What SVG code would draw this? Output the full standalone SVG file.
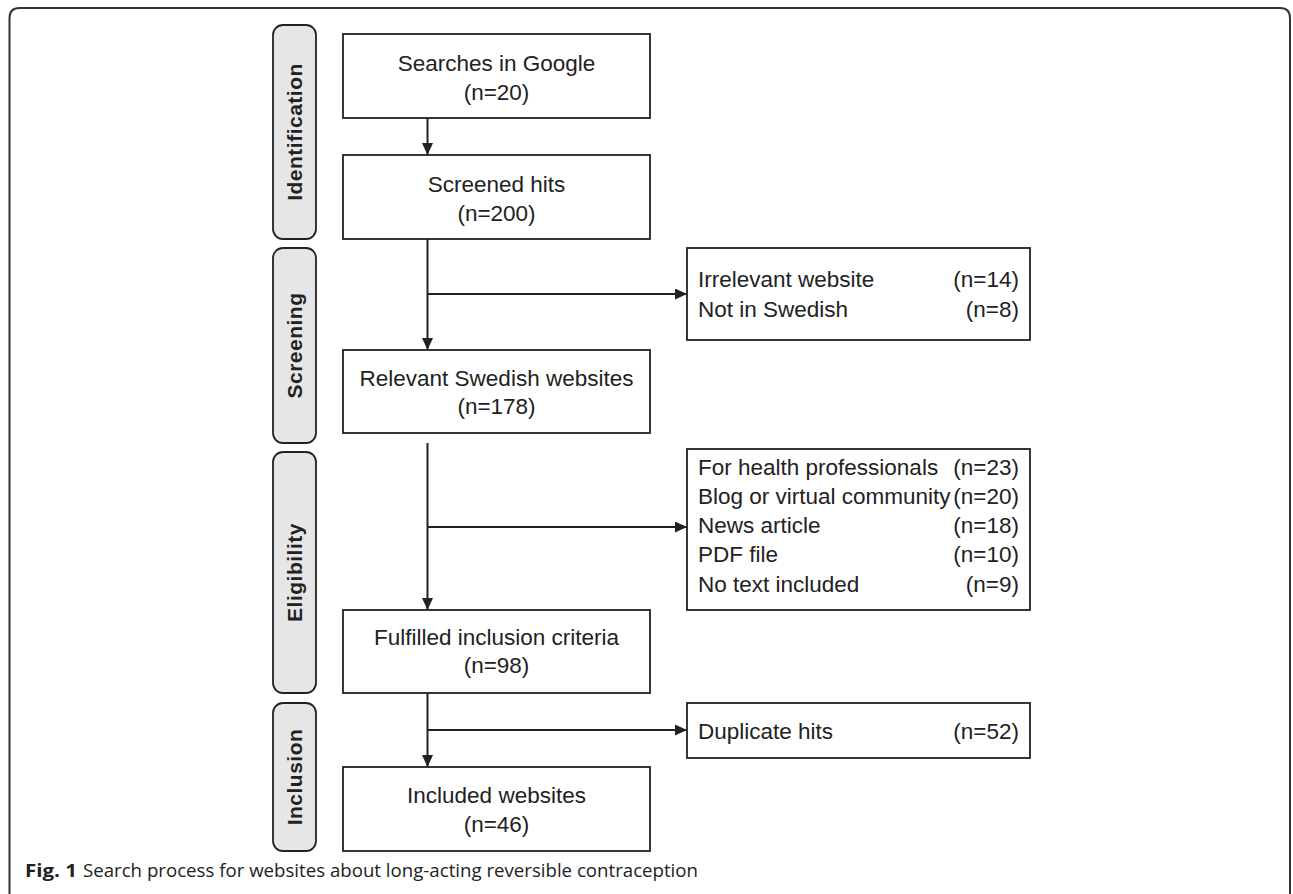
<svg xmlns="http://www.w3.org/2000/svg" width="1293" height="894" viewBox="0 0 1293 894">
<style>
.frame{fill:none;stroke:#333;stroke-width:2}
.box{fill:#fff;stroke:#222;stroke-width:1.8}
.stage{fill:#e6e6e6;stroke:#222;stroke-width:1.8}
.t{font-family:"Liberation Sans",Arial,sans-serif;font-size:22.5px;fill:#222}
.c{text-anchor:middle}
.e{text-anchor:end}
.s{font-family:"Liberation Sans",Arial,sans-serif;font-size:21px;font-weight:bold;fill:#222;text-anchor:middle;letter-spacing:0.5px}
.ln{fill:none;stroke:#222;stroke-width:2}
.cap{font-family:"Open Sans","Liberation Sans",sans-serif;font-size:18px;fill:#222}
</style>
<defs>
<marker id="ah" markerUnits="userSpaceOnUse" markerWidth="14" markerHeight="12" refX="12" refY="5.5" orient="auto">
<path d="M0,0 L12,5.5 L0,11 Z" fill="#222"/>
</marker>
</defs>
<path class="frame" d="M9.5,894 L9.5,18 Q9.5,8 19.5,8 L1280,8 Q1290,8 1290,18 L1290,894"/>
<g id="stage-identification"><rect class="stage" x="273" y="25" width="43" height="214" rx="10"/><text class="s" transform="translate(302,132) rotate(-90)">Identification</text></g>
<g id="stage-screening"><rect class="stage" x="273" y="248" width="43" height="195" rx="10"/><text class="s" transform="translate(302,345.5) rotate(-90)">Screening</text></g>
<g id="stage-eligibility"><rect class="stage" x="273" y="452" width="43" height="241" rx="10"/><text class="s" transform="translate(302,572.5) rotate(-90)">Eligibility</text></g>
<g id="stage-inclusion"><rect class="stage" x="273" y="703" width="43" height="148" rx="10"/><text class="s" transform="translate(302,777) rotate(-90)">Inclusion</text></g>
<g id="n1"><rect class="box" x="343" y="34" width="307" height="84"/><text class="t c" x="496.5" y="71">Searches in Google</text><text class="t c" x="496.5" y="100">(n=20)</text></g>
<g id="n2"><rect class="box" x="343" y="155" width="307" height="84"/><text class="t c" x="496.5" y="192">Screened hits</text><text class="t c" x="496.5" y="221">(n=200)</text></g>
<g id="n3"><rect class="box" x="343" y="350" width="307" height="83"/><text class="t c" x="496.5" y="386">Relevant Swedish websites</text><text class="t c" x="496.5" y="414">(n=178)</text></g>
<g id="n4"><rect class="box" x="343" y="610" width="307" height="83"/><text class="t c" x="496.5" y="645">Fulfilled inclusion criteria</text><text class="t c" x="496.5" y="673">(n=98)</text></g>
<g id="n5"><rect class="box" x="343" y="767" width="307" height="84"/><text class="t c" x="496.5" y="803">Included websites</text><text class="t c" x="496.5" y="832">(n=46)</text></g>
<g id="x1"><rect class="box" x="687" y="248" width="343" height="92"/>
<text class="t" x="698" y="287">Irrelevant website</text><text class="t e" x="1019" y="287">(n=14)</text>
<text class="t" x="698" y="317">Not in Swedish</text><text class="t e" x="1019" y="317">(n=8)</text></g>
<g id="x2"><rect class="box" x="687" y="449" width="343" height="161"/>
<text class="t" x="698" y="475">For health professionals</text><text class="t e" x="1019" y="475">(n=23)</text>
<text class="t" x="698" y="504">Blog or virtual community</text><text class="t e" x="1019" y="504">(n=20)</text>
<text class="t" x="698" y="533">News article</text><text class="t e" x="1019" y="533">(n=18)</text>
<text class="t" x="698" y="562">PDF file</text><text class="t e" x="1019" y="562">(n=10)</text>
<text class="t" x="698" y="592">No text included</text><text class="t e" x="1019" y="592">(n=9)</text></g>
<g id="x3"><rect class="box" x="687" y="703" width="343" height="55"/><text class="t" x="698" y="739">Duplicate hits</text><text class="t e" x="1019" y="739">(n=52)</text></g>
<g id="connectors">
<line class="ln" x1="427.5" y1="118" x2="427.5" y2="155" marker-end="url(#ah)"/>
<line class="ln" x1="427.5" y1="239" x2="427.5" y2="350" marker-end="url(#ah)"/>
<line class="ln" x1="427.5" y1="294" x2="687" y2="294" marker-end="url(#ah)"/>
<line class="ln" x1="427.5" y1="443" x2="427.5" y2="610" marker-end="url(#ah)"/>
<line class="ln" x1="427.5" y1="527" x2="687" y2="527" marker-end="url(#ah)"/>
<line class="ln" x1="427.5" y1="693" x2="427.5" y2="767" marker-end="url(#ah)"/>
<line class="ln" x1="427.5" y1="730" x2="687" y2="730" marker-end="url(#ah)"/>
</g>
<g id="caption"><text class="cap" x="25" y="877" font-weight="bold" textLength="52" lengthAdjust="spacingAndGlyphs">Fig. 1</text><text class="cap" x="83" y="877" textLength="615" lengthAdjust="spacingAndGlyphs">Search process for websites about long-acting reversible contraception</text></g>
</svg>
